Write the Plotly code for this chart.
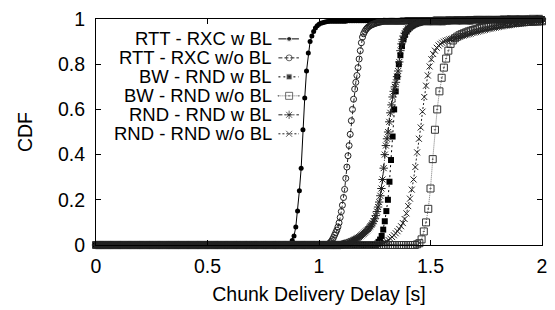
import plotly.graph_objects as go

# ---------------- data ----------------
# Each CDF series is sampled on its own uniform delay grid (step in seconds).
LABELS = ["RTT - RXC w BL", "RTT - RXC w/o BL", "BW - RND w BL",
          "BW - RND w/o BL", "RND - RND w BL", "RND - RND w/o BL"]

STEP_RTT_BL = 0.008
CDF_RTT_BL = ([0.0] * 109 +
              [0.006, 0.02, 0.04, 0.08, 0.15, 0.24, 0.34, 0.51, 0.65, 0.77, 0.85,
               0.90, 0.925, 0.945, 0.96, 0.97, 0.977, 0.981, 0.984, 0.986, 0.988, 0.989] +
              [0.99] * 10 + [0.992] * 15 + [0.994] * 15 + [0.996] * 15 + [0.998] * 15 +
              [1.0] * 50)

STEP_RTT_NOBL = 0.005
CDF_RTT_NOBL = ([0.0] * 208 +
                [0.003, 0.006, 0.010, 0.016, 0.024, 0.033, 0.044, 0.055, 0.066, 0.08,
                 0.098, 0.122, 0.148, 0.176, 0.21, 0.246, 0.295, 0.345, 0.395, 0.44,
                 0.49, 0.55, 0.60, 0.645, 0.69, 0.72, 0.75, 0.785, 0.823, 0.86,
                 0.895, 0.92, 0.935, 0.945, 0.953, 0.959, 0.964, 0.968, 0.971, 0.974,
                 0.976, 0.978, 0.98, 0.982, 0.983, 0.985, 0.986, 0.987, 0.988, 0.989] +
                [0.99] * 20 + [0.993] * 25 + [0.996] * 30 + [0.998] * 30 + [1.0] * 38)

STEP_BW_BL = 0.007
CDF_BW_BL = ([0.0] * 180 +
             [0.006, 0.014, 0.024, 0.04, 0.068, 0.105, 0.15, 0.2, 0.28, 0.376,
              0.48, 0.6, 0.68, 0.745, 0.8, 0.84, 0.88, 0.91, 0.93, 0.945,
              0.955, 0.962, 0.968, 0.972, 0.976, 0.979, 0.982, 0.984, 0.986, 0.988,
              0.989] +
             [0.99] * 15 + [0.993] * 15 + [0.996] * 20 + [0.998] * 15 + [1.0] * 10)

STEP_BW_NOBL = 0.01
CDF_BW_NOBL = ([0.0] * 144 +
               [0.003, 0.008, 0.025, 0.06, 0.1, 0.16, 0.25, 0.38, 0.51, 0.6,
                0.68, 0.74, 0.785, 0.825, 0.86, 0.89, 0.905, 0.915, 0.922, 0.928,
                0.933, 0.937, 0.941, 0.945, 0.948, 0.951, 0.954, 0.957, 0.96, 0.962,
                0.964, 0.966, 0.968, 0.97, 0.972, 0.973, 0.975, 0.976, 0.977, 0.978,
                0.979, 0.98, 0.981, 0.982, 0.983, 0.984, 0.985, 0.986, 0.986, 0.987,
                0.987, 0.988, 0.988, 0.989, 0.989, 0.99, 0.99])

STEP_RND_BL = 0.005
CDF_RND_BL = ([0.0] * 220 +
              [0.002, 0.003, 0.004, 0.005, 0.006, 0.008, 0.01, 0.012, 0.014, 0.016,
               0.018, 0.02, 0.023, 0.026, 0.029, 0.032, 0.035, 0.039, 0.043, 0.047,
               0.051, 0.055, 0.06, 0.065, 0.07, 0.076, 0.082, 0.089, 0.096, 0.105,
               0.116, 0.13, 0.148, 0.168, 0.19, 0.218, 0.25, 0.29, 0.34, 0.4,
               0.44, 0.47, 0.5, 0.545, 0.585, 0.62, 0.655, 0.68, 0.70, 0.72,
               0.745, 0.77, 0.81, 0.86, 0.89, 0.91, 0.925, 0.937, 0.946, 0.953,
               0.959, 0.964, 0.968, 0.971, 0.974, 0.977, 0.979, 0.981, 0.983, 0.985,
               0.986, 0.987, 0.988, 0.989] +
              [0.99] * 20 + [0.993] * 25 + [0.996] * 30 + [0.998] * 20 + [1.0] * 12)

STEP_RND_NOBL = 0.008
CDF_RND_NOBL = ([0.0] * 158 +
                [0.002, 0.004, 0.006, 0.009, 0.012, 0.016, 0.022, 0.028, 0.035, 0.043,
                 0.052, 0.061, 0.071, 0.083, 0.097, 0.115, 0.14, 0.172, 0.205, 0.245,
                 0.29, 0.345, 0.41, 0.47, 0.52, 0.59, 0.655, 0.705, 0.75, 0.79,
                 0.822, 0.845, 0.86, 0.873, 0.883, 0.89, 0.895, 0.9, 0.904, 0.907,
                 0.91, 0.912, 0.914, 0.916, 0.918, 0.92, 0.922, 0.925, 0.927, 0.929,
                 0.931, 0.933, 0.935, 0.938, 0.94, 0.942, 0.944, 0.946, 0.948, 0.95,
                 0.952, 0.954, 0.956, 0.957, 0.959, 0.961, 0.962, 0.964, 0.965, 0.967,
                 0.968, 0.97, 0.971, 0.972, 0.973, 0.975, 0.976, 0.977, 0.978, 0.979,
                 0.98, 0.981, 0.982, 0.983, 0.984, 0.985, 0.986, 0.987, 0.987, 0.988,
                 0.989, 0.99, 0.99])

SERIES = [(STEP_RTT_BL, CDF_RTT_BL), (STEP_RTT_NOBL, CDF_RTT_NOBL),
          (STEP_BW_BL, CDF_BW_BL), (STEP_BW_NOBL, CDF_BW_NOBL),
          (STEP_RND_BL, CDF_RND_BL), (STEP_RND_NOBL, CDF_RND_NOBL)]

X_TICKS = [0, 0.5, 1, 1.5, 2]
X_TICK_TEXT = ["0", "0.5", "1", "1.5", "2"]
Y_TICKS = [0, 0.2, 0.4, 0.6, 0.8, 1]
Y_TICK_TEXT = ["0", "0.2", "0.4", "0.6", "0.8", "1"]

# ---------------- styles ----------------
FONT = "Liberation Sans, Arial, Helvetica, sans-serif"
FS = 19.5
LEG_FS = 18.5
STYLES = [
    dict(line=dict(color="black", width=1),
         marker=dict(symbol="circle", size=5, color="black")),
    dict(line=dict(color="#222", width=1, dash="4px,2px"),
         marker=dict(symbol="circle-open", size=6, color="#222", line=dict(width=1))),
    dict(line=dict(color="black", width=1, dash="2px,3px"),
         marker=dict(symbol="square", size=6, color="black")),
    dict(line=dict(color="#777", width=1, dash="1px,1px"),
         marker=dict(symbol="square-open-dot", size=7, color="#333", line=dict(width=1))),
    dict(line=dict(color="#222", width=1, dash="4px,2px,1px,2px"),
         marker=dict(symbol="asterisk-open", size=7, color="#222", line=dict(width=1))),
    dict(line=dict(color="#222", width=1, dash="2px,2px"),
         marker=dict(symbol="x-thin-open", size=6, color="#222", line=dict(width=1))),
]

fig = go.Figure()
for (step, ys), st, name in zip(SERIES, STYLES, LABELS):
    xs = [round(i * step, 4) for i in range(len(ys))]
    fig.add_trace(go.Scatter(x=xs, y=ys, mode="lines+markers", name=name,
                             line=st["line"], marker=st["marker"],
                             cliponaxis=False, showlegend=False))

# ---------------- legend (gnuplot style: text then key sample) ----------------
LEG_TEXT_X = 0.397
LEG_ROW_Y = [0.912, 0.828, 0.744, 0.660, 0.576, 0.492]
LEG_KEY_X = [0.409, 0.433, 0.455]
for name, st, yy in zip(LABELS, STYLES, LEG_ROW_Y):
    fig.add_annotation(x=LEG_TEXT_X, y=yy, xref="paper", yref="paper",
                       text=name, showarrow=False, xanchor="right", yanchor="middle",
                       borderpad=0,
                       font=dict(family=FONT, size=LEG_FS, color="black"))
    mk = dict(st["marker"])
    mk["size"] = [0, st["marker"]["size"], 0]
    fig.add_trace(go.Scatter(x=LEG_KEY_X, y=[yy] * 3, mode="lines+markers",
                             xaxis="x2", yaxis="y2", line=st["line"], marker=mk,
                             showlegend=False, hoverinfo="skip", cliponaxis=False))

axis_common = dict(showline=True, linecolor="black", linewidth=1, mirror="ticks",
                   ticks="inside", ticklen=5, tickcolor="black", showgrid=False,
                   zeroline=False, ticklabeloverflow="allow",
                   tickfont=dict(family=FONT, size=FS, color="black"))

fig.update_layout(
    width=555, height=310,
    margin=dict(l=96, r=11, t=8, b=65),
    paper_bgcolor="white", plot_bgcolor="white",
    font=dict(family=FONT, size=FS, color="black"),
    xaxis=dict(range=[0, 2], tickvals=X_TICKS, ticktext=X_TICK_TEXT,
               title=dict(text="Chunk Delivery Delay [s]", standoff=10,
                          font=dict(family=FONT, size=FS)),
               ticklabelstandoff=4, **axis_common),
    yaxis=dict(range=[0, 1.0001], tickvals=Y_TICKS, ticktext=Y_TICK_TEXT,
               title=dict(text="CDF", standoff=20, font=dict(family=FONT, size=FS)),
               ticklabelstandoff=6, **axis_common),
    xaxis2=dict(range=[0, 1], overlaying="x", visible=False),
    yaxis2=dict(range=[0, 1], overlaying="y", visible=False),
)

fig.write_html("out.html", config={"displayModeBar": False},
               post_script="document.body.style.margin='0';")
